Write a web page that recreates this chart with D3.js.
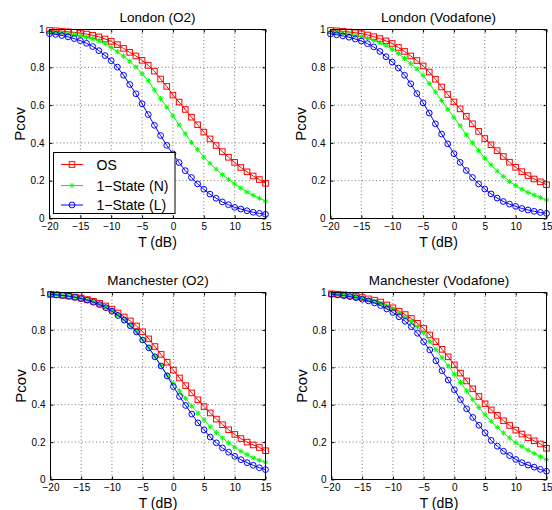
<!DOCTYPE html>
<html>
<head>
<meta charset="utf-8">
<script src="https://cdn.jsdelivr.net/npm/d3@7"></script>
<style>
  body { margin: 0; background: #fff; }
  text { font-family: "Liberation Sans", Arial, sans-serif; fill: #000; }
</style>
</head>
<body>
<div id="chart"></div>
<script>
// ------------------------------------------------- data

const T_DB = [-20, -19, -18, -17, -16, -15, -14, -13, -12, -11, -10, -9, -8, -7, -6, -5, -4, -3,
              -2, -1, 0, 1, 2, 3, 4, 5, 6, 7, 8, 9, 10, 11, 12, 13, 14, 15];

const X_TICKS = [-20, -15, -10, -5, 0, 5, 10, 15];
const Y_TICKS = [0, 0.2, 0.4, 0.6, 0.8, 1];

const SERIES_NAMES = ["OS", "1\u2212State (N)", "1\u2212State (L)"];
const PANEL_TITLES = ["London (O2)", "London (Vodafone)", "Manchester (O2)", "Manchester (Vodafone)"];

// London (O2)
const lon_o2_os = [0.995, 0.993, 0.991, 0.988, 0.985, 0.981, 0.976, 0.969, 0.961, 0.950, 0.937, 0.920,
                   0.900, 0.879, 0.860, 0.837, 0.810, 0.780, 0.738, 0.699, 0.653, 0.616, 0.577, 0.536,
                   0.496, 0.457, 0.421, 0.386, 0.354, 0.324, 0.297, 0.270, 0.247, 0.225, 0.206, 0.186];
const lon_o2_n  = [0.988, 0.985, 0.982, 0.978, 0.973, 0.967, 0.960, 0.951, 0.940, 0.925, 0.905, 0.882,
                   0.859, 0.832, 0.802, 0.766, 0.729, 0.680, 0.634, 0.589, 0.543, 0.495, 0.448, 0.402,
                   0.364, 0.325, 0.292, 0.261, 0.232, 0.207, 0.183, 0.161, 0.140, 0.123, 0.107, 0.092];
const lon_o2_l  = [0.978, 0.974, 0.968, 0.961, 0.952, 0.941, 0.927, 0.910, 0.888, 0.862, 0.835, 0.801,
                   0.758, 0.709, 0.660, 0.607, 0.550, 0.493, 0.439, 0.387, 0.342, 0.296, 0.253, 0.217,
                   0.183, 0.155, 0.129, 0.107, 0.088, 0.073, 0.059, 0.050, 0.041, 0.033, 0.027, 0.022];

// London (Vodafone)
const lon_vf_os = [0.995, 0.993, 0.990, 0.987, 0.983, 0.978, 0.971, 0.962, 0.952, 0.940, 0.926, 0.905,
                   0.884, 0.860, 0.836, 0.807, 0.775, 0.737, 0.696, 0.656, 0.617, 0.580, 0.541, 0.501,
                   0.461, 0.423, 0.390, 0.359, 0.328, 0.298, 0.271, 0.248, 0.227, 0.209, 0.194, 0.179];
const lon_vf_n  = [0.987, 0.984, 0.980, 0.975, 0.969, 0.962, 0.953, 0.942, 0.929, 0.914, 0.896, 0.873,
                   0.847, 0.819, 0.791, 0.757, 0.714, 0.669, 0.624, 0.578, 0.535, 0.491, 0.443, 0.400,
                   0.359, 0.319, 0.284, 0.251, 0.223, 0.196, 0.174, 0.155, 0.138, 0.124, 0.111, 0.098];
const lon_vf_l  = [0.976, 0.972, 0.966, 0.959, 0.950, 0.939, 0.925, 0.908, 0.884, 0.856, 0.828, 0.796,
                   0.758, 0.713, 0.661, 0.612, 0.558, 0.501, 0.447, 0.395, 0.343, 0.297, 0.254, 0.217,
                   0.183, 0.156, 0.130, 0.108, 0.090, 0.076, 0.064, 0.053, 0.045, 0.038, 0.032, 0.027];

// Manchester (O2)
const man_o2_os = [0.990, 0.988, 0.985, 0.981, 0.976, 0.970, 0.962, 0.953, 0.942, 0.928, 0.911, 0.890,
                   0.869, 0.848, 0.821, 0.790, 0.752, 0.711, 0.669, 0.627, 0.585, 0.543, 0.502, 0.463,
                   0.426, 0.390, 0.356, 0.323, 0.293, 0.266, 0.241, 0.219, 0.200, 0.185, 0.171, 0.154];
const man_o2_n  = [0.990, 0.988, 0.984, 0.980, 0.975, 0.968, 0.960, 0.950, 0.938, 0.923, 0.905, 0.880,
                   0.853, 0.822, 0.790, 0.747, 0.705, 0.658, 0.609, 0.558, 0.515, 0.474, 0.434, 0.392,
                   0.355, 0.319, 0.281, 0.250, 0.222, 0.196, 0.172, 0.151, 0.133, 0.116, 0.103, 0.092];
const man_o2_l  = [0.990, 0.987, 0.984, 0.980, 0.974, 0.967, 0.959, 0.948, 0.935, 0.919, 0.900, 0.877,
                   0.852, 0.822, 0.789, 0.746, 0.704, 0.656, 0.607, 0.554, 0.497, 0.444, 0.396, 0.350,
                   0.303, 0.265, 0.227, 0.196, 0.169, 0.146, 0.124, 0.106, 0.090, 0.076, 0.063, 0.053];

// Manchester (Vodafone)
const man_vf_os = [0.993, 0.991, 0.988, 0.984, 0.979, 0.973, 0.966, 0.959, 0.949, 0.933, 0.918, 0.900,
                   0.882, 0.861, 0.835, 0.808, 0.773, 0.737, 0.696, 0.656, 0.613, 0.569, 0.527, 0.485,
                   0.444, 0.405, 0.372, 0.343, 0.314, 0.289, 0.264, 0.243, 0.223, 0.207, 0.190, 0.167];
const man_vf_n  = [0.992, 0.990, 0.987, 0.983, 0.977, 0.970, 0.962, 0.953, 0.943, 0.929, 0.911, 0.889,
                   0.869, 0.844, 0.816, 0.786, 0.738, 0.694, 0.651, 0.608, 0.563, 0.519, 0.474, 0.427,
                   0.385, 0.346, 0.311, 0.279, 0.249, 0.222, 0.196, 0.177, 0.157, 0.139, 0.122, 0.106];
const man_vf_l  = [0.990, 0.987, 0.983, 0.978, 0.972, 0.964, 0.955, 0.944, 0.930, 0.912, 0.893, 0.870,
                   0.846, 0.817, 0.782, 0.737, 0.693, 0.635, 0.582, 0.532, 0.480, 0.427, 0.378, 0.332,
                   0.290, 0.250, 0.209, 0.178, 0.151, 0.128, 0.107, 0.090, 0.077, 0.066, 0.054, 0.044];

// -------------------------------------------------

const COLOR_OS = "#ff0000";
const COLOR_N = "#00ff00";
const COLOR_L = "#0000ff";

const SVG_W = 552;
const SVG_H = 510;

// plot boxes [x0, y0, x1, y1]
const PANELS = [
    { box: [49.5, 29.5, 265.5, 218.5], title: PANEL_TITLES[0], data: [lon_o2_os, lon_o2_n, lon_o2_l], ylab_x: 20, legend: true },
    { box: [330.5, 29.5, 546.5, 218.5], title: PANEL_TITLES[1], data: [lon_vf_os, lon_vf_n, lon_vf_l], ylab_x: 301, legend: false },
    { box: [50.5, 292.5, 265.5, 479.5], title: PANEL_TITLES[2], data: [man_o2_os, man_o2_n, man_o2_l], ylab_x: 21, legend: false },
    { box: [331.5, 292.5, 546.5, 479.5], title: PANEL_TITLES[3], data: [man_vf_os, man_vf_n, man_vf_l], ylab_x: 302, legend: false }
];

const COLORS = [COLOR_OS, COLOR_N, COLOR_L];
const MARKERS = ["square", "star", "circle"];

let svg = d3.select("#chart")
            .append("svg")
                .attr("width", SVG_W)
                .attr("height", SVG_H);

function draw_marker(g, type, x, y, color) {
    if (type === "square") {
        g.append("rect")
            .attr("x", x - 2.8)
            .attr("y", y - 2.8)
            .attr("width", 5.6)
            .attr("height", 5.6)
            .attr("fill", "none")
            .attr("stroke", color)
            .attr("stroke-width", 1)
    } else if (type === "circle") {
        g.append("circle")
            .attr("cx", x)
            .attr("cy", y)
            .attr("r", 2.9)
            .attr("fill", "none")
            .attr("stroke", color)
            .attr("stroke-width", 1)
    } else {
        let r = 2.6, d = 1.9;
        g.append("path")
            .attr("d", "M" + (x - r) + "," + y + "H" + (x + r) +
                       "M" + x + "," + (y - r) + "V" + (y + r) +
                       "M" + (x - d) + "," + (y - d) + "L" + (x + d) + "," + (y + d) +
                       "M" + (x - d) + "," + (y + d) + "L" + (x + d) + "," + (y - d))
            .attr("fill", "none")
            .attr("stroke", color)
            .attr("stroke-width", 1)
    }
}

function fmt_tick(v) {
    return String(v).replace("-", "\u2212");
}

function draw_panel(p) {
    let [x0, y0, x1, y1] = p.box;

    let scaleX = d3.scaleLinear().domain([-20, 15]).range([x0, x1]);
    let scaleY = d3.scaleLinear().domain([0, 1]).range([y1, y0]);

    let g = svg.append("g");

    // grid
    g.append("g")
        .selectAll("line")
        .data(X_TICKS.slice(1, -1))
        .join("line")
            .attr("x1", d => scaleX(d))
            .attr("x2", d => scaleX(d))
            .attr("y1", y0)
            .attr("y2", y1)
            .attr("stroke", "#555")
            .attr("stroke-width", 0.8)
            .attr("stroke-dasharray", "1,2.5")

    g.append("g")
        .selectAll("line")
        .data(Y_TICKS.slice(1, -1))
        .join("line")
            .attr("x1", x0)
            .attr("x2", x1)
            .attr("y1", d => scaleY(d))
            .attr("y2", d => scaleY(d))
            .attr("stroke", "#555")
            .attr("stroke-width", 0.8)
            .attr("stroke-dasharray", "1,2.5")

    // axes (ticks inward), labels
    let axisB = d3.axisBottom(scaleX).tickValues(X_TICKS).tickSize(-3).tickPadding(4.5).tickFormat(fmt_tick);
    let axisL = d3.axisLeft(scaleY).tickValues(Y_TICKS).tickSize(-3).tickPadding(5).tickFormat(d => String(d));
    let axisT = d3.axisTop(scaleX).tickValues(X_TICKS).tickSize(-3).tickFormat("");
    let axisR = d3.axisRight(scaleY).tickValues(Y_TICKS).tickSize(-3).tickFormat("");

    let gb = g.append("g").attr("transform", "translate(0," + y1 + ")").call(axisB);
    let gl = g.append("g").attr("transform", "translate(" + x0 + ",0)").call(axisL);
    g.append("g").attr("transform", "translate(0," + y0 + ")").call(axisT);
    g.append("g").attr("transform", "translate(" + x1 + ",0)").call(axisR);

    g.selectAll(".domain").remove();
    g.selectAll(".tick line").attr("stroke", "#000");
    gb.selectAll("text").attr("font-size", 10).attr("font-family", "Liberation Sans, Arial, sans-serif");
    gl.selectAll("text").attr("font-size", 10).attr("font-family", "Liberation Sans, Arial, sans-serif");

    // curves
    let line = d3.line()
                    .x((d, i) => scaleX(T_DB[i]))
                    .y(d => scaleY(d));

    p.data.forEach(function(vals, k) {
        g.append("path")
            .attr("d", line(vals))
            .attr("fill", "none")
            .attr("stroke", COLORS[k])
            .attr("stroke-width", 1)

        let gm = g.append("g");
        vals.forEach(function(v, i) {
            draw_marker(gm, MARKERS[k], scaleX(T_DB[i]), scaleY(v), COLORS[k]);
        });
    });

    // frame
    g.append("rect")
        .attr("x", x0)
        .attr("y", y0)
        .attr("width", x1 - x0)
        .attr("height", y1 - y0)
        .attr("fill", "none")
        .attr("stroke", "#000")
        .attr("stroke-width", 1)

    // title
    g.append("text")
        .attr("x", (x0 + x1) / 2)
        .attr("y", y0 - 8)
        .attr("text-anchor", "middle")
        .attr("font-size", 13.5)
        .text(p.title)

    // x label
    g.append("text")
        .attr("x", (x0 + x1) / 2)
        .attr("y", y1 + 28)
        .attr("text-anchor", "middle")
        .attr("font-size", 14)
        .text("T (dB)")

    // y label
    g.append("text")
        .attr("transform", "translate(" + (p.ylab_x + 5) + "," + ((y0 + y1) / 2) + ") rotate(-90)")
        .attr("text-anchor", "middle")
        .attr("font-size", 15)
        .text("Pcov")

    if (p.legend) {
        let lx = 53.5, ly = 152.5, lw = 121.5, lh = 61;
        let lg = g.append("g");
        lg.append("rect")
            .attr("x", lx)
            .attr("y", ly)
            .attr("width", lw)
            .attr("height", lh)
            .attr("fill", "#fff")
            .attr("stroke", "#000")
            .attr("stroke-width", 1)

        let rows = [164.5, 185.5, 205];
        SERIES_NAMES.forEach(function(name, k) {
            lg.append("line")
                .attr("x1", lx + 7.5)
                .attr("x2", lx + 29.5)
                .attr("y1", rows[k])
                .attr("y2", rows[k])
                .attr("stroke", COLORS[k])
                .attr("stroke-width", 1)
            draw_marker(lg, MARKERS[k], lx + 18.5, rows[k], COLORS[k]);
            lg.append("text")
                .attr("x", lx + 43)
                .attr("y", rows[k] + 5)
                .attr("font-size", 14)
                .text(name)
        });
    }
}

PANELS.forEach(draw_panel);
</script>
</body>
</html>
